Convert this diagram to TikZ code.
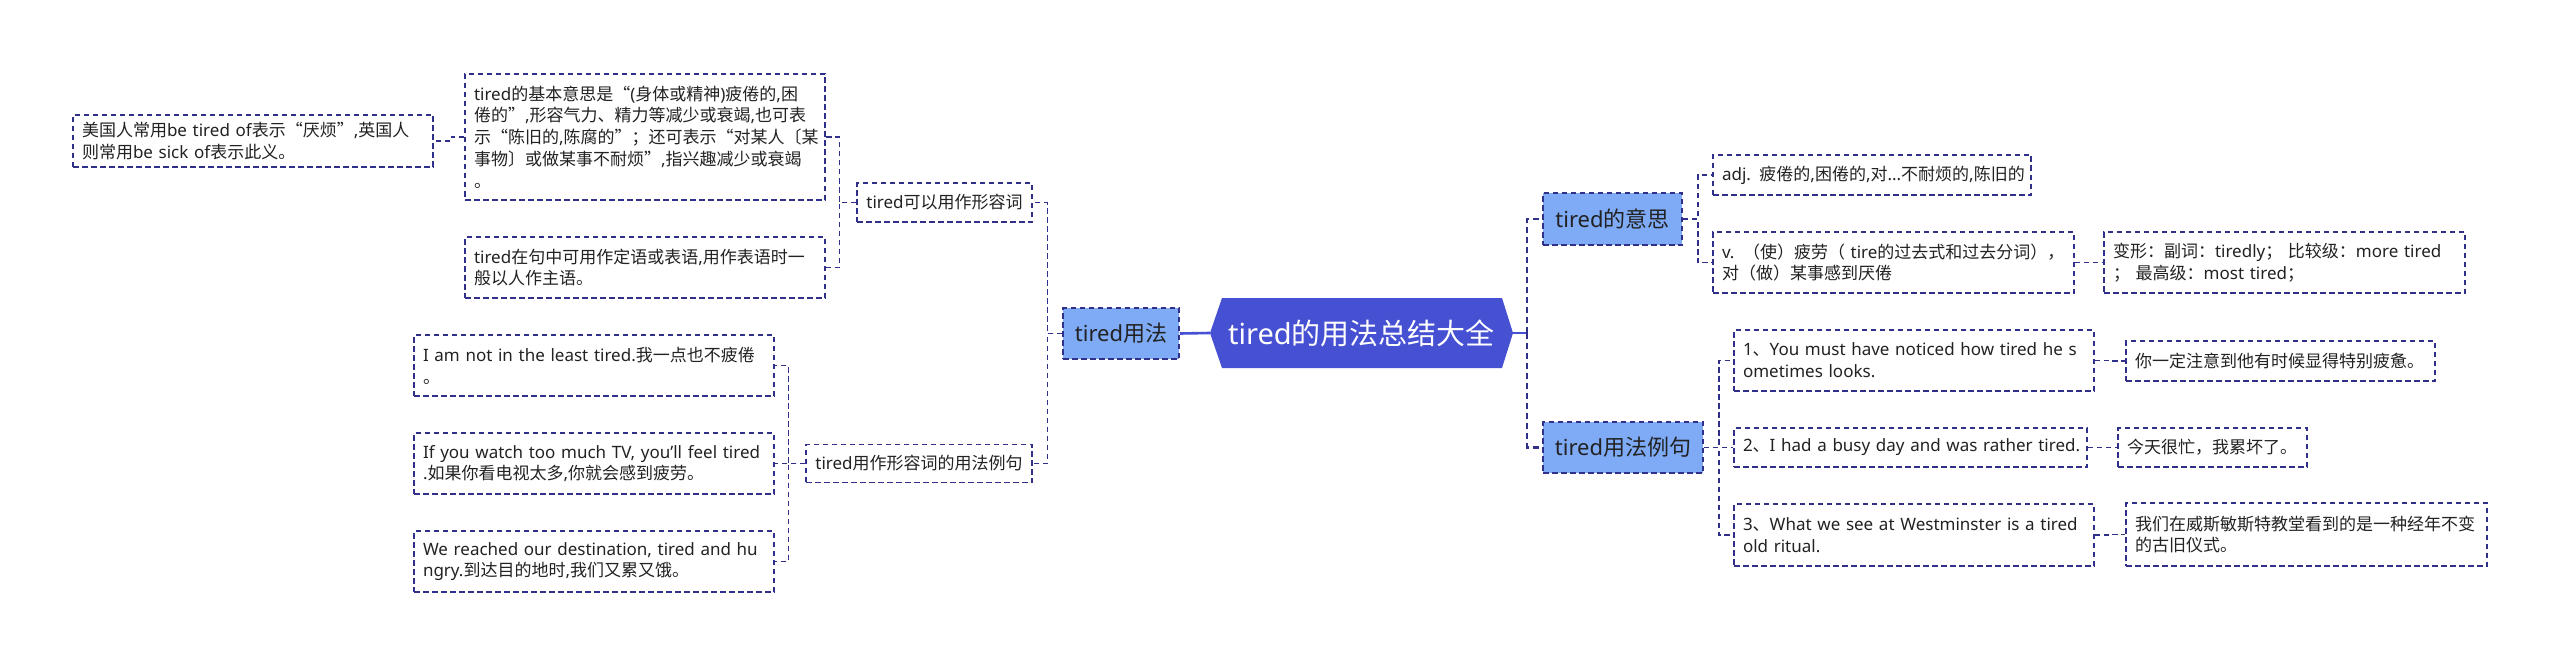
\documentclass[tikz,border=0pt]{standalone}
\usepackage{fontspec}
\setmainfont{Noto Sans}
\newfontfamily\cjkfont{Noto Sans CJK SC}
\newfontfamily\latfont{Noto Sans}
\XeTeXinterchartokenstate=1
\newXeTeXintercharclass\CJKcls
\newcount\myc
\myc="2E80
\loop\XeTeXcharclass\myc=\CJKcls\advance\myc by 1\relax\ifnum\myc<"A000\repeat
\myc="FF00
\loop\XeTeXcharclass\myc=\CJKcls\advance\myc by 1\relax\ifnum\myc<"FFF0\repeat
\XeTeXcharclass"201C=\CJKcls
\XeTeXcharclass"201D=\CJKcls
\XeTeXinterchartoks 0 \CJKcls = {\cjkfont}
\XeTeXinterchartoks 4095 \CJKcls = {\cjkfont}
\XeTeXinterchartoks \CJKcls 0 = {\latfont}
\XeTeXinterchartoks \CJKcls 4095 = {\latfont}
\definecolor{lncol}{HTML}{30308A}
\definecolor{lb}{HTML}{7EAAF6}
\definecolor{hx}{HTML}{4650D2}
\definecolor{tx}{HTML}{222222}
\newcommand\smf{\fontsize{17pt}{21.7pt}\selectfont}
\newcommand\mdf{\fontsize{22pt}{26pt}\selectfont}
\newcommand\cff{\fontsize{29pt}{34pt}\selectfont}
\newcommand\lnb[1]{\mbox{#1}}
\tikzset{
  dsh/.style={line width=1.5pt, dash pattern=on 5.5pt off 3.5pt},
  bx/.style={draw=lncol, dsh, inner xsep=9pt, inner ysep=0pt, align=left, font=\smf, text=tx},
  l1/.style={draw=lncol, dsh, fill=lb, inner sep=0pt, font=\mdf, text=tx},
  conn/.style={draw=lncol, dsh},
  tconn/.style={draw=lncol, line width=2.4pt, dash pattern=on 6pt off 4pt},
  mainline/.style={draw=hx, line width=2.6pt},
}
\begin{document}
\begin{tikzpicture}[x=1pt,y=-1pt]
\useasboundingbox (0,0) rectangle (2560,666);
\fill[white] (0,0) rectangle (2560,666);
% central topic
\fill[hx] (1210,333) -- (1222,298) -- (1502,298) -- (1513,333) -- (1502,368) -- (1222,368) -- cycle;
\node[minimum width=303pt, minimum height=70pt, inner sep=0pt, font=\cff, text=white] (c) at (1361.5,333) {tired的用法总结大全};
% left side
\node[l1, minimum width=116pt, minimum height=51pt] (usage) at (1121,333.5) {tired用法};
\node[bx, minimum width=175pt, minimum height=39pt] (adjA) at (944.5,202.5) {tired可以用作形容词};
\node[bx, minimum width=226pt, minimum height=38pt] (exA) at (919,463.5) {tired用作形容词的用法例句};
\node[bx, text width=342pt, minimum height=126pt] (b1) at (645,137) {\lnb{tired的基本意思是“(身体或精神)疲倦的,困}\\\lnb{倦的”,形容气力、精力等减少或衰竭,也可表}\\\lnb{示“陈旧的,陈腐的”；还可表示“对某人〔某}\\\lnb{事物〕或做某事不耐烦”,指兴趣减少或衰竭}\\。};
\node[bx, text width=342pt, minimum height=61pt] (b2) at (645,267.5) {\lnb{tired在句中可用作定语或表语,用作表语时一}\\般以人作主语。};
\node[bx, text width=342pt, minimum height=52pt] (mei) at (253,141) {\lnb{美国人常用be tired of表示“厌烦”,英国人}\\\lnb{则常用be sick of表示此义。}};
\node[bx, text width=342pt, minimum height=61pt] (e1) at (594,365.5) {\lnb{I am not in the least tired.我一点也不疲倦}\\。};
\node[bx, text width=342pt, minimum height=61pt] (e2) at (594,463.5) {\lnb{If you watch too much TV, you'll feel tired}\\\lnb{.如果你看电视太多,你就会感到疲劳。}};
\node[bx, text width=342pt, minimum height=61pt] (e3) at (594,561.5) {\lnb{We reached our destination, tired and hu}\\\lnb{ngry.到达目的地时,我们又累又饿。}};
% right side
\node[l1, minimum width=139pt, minimum height=52pt] (M) at (1612.5,219) {tired的意思};
\node[l1, minimum width=160pt, minimum height=51pt] (X) at (1623,447.5) {tired用法例句};
\node[bx, text width=300pt, minimum height=40pt] (A) at (1872,175) {\lnb{adj. 疲倦的,困倦的,对...不耐烦的,陈旧的}};
\node[bx, text width=343pt, minimum height=61pt] (V) at (1893.5,262.5) {\lnb{v. （使）疲劳（ tire的过去式和过去分词），}\\\lnb{对（做）某事感到厌倦}};
\node[bx, text width=343pt, minimum height=61pt] (Bx) at (2284.5,262.5) {\lnb{变形：副词：tiredly； 比较级：more tired}\\\lnb{； 最高级：most tired；}};
\node[bx, text width=342pt, minimum height=61pt] (S1) at (1914,360.5) {\lnb{1、You must have noticed how tired he s}\\\lnb{ometimes looks.}};
\node[bx, text width=335pt, minimum height=39pt] (S2) at (1910.5,447.5) {\lnb{2、I had a busy day and was rather tired.}};
\node[bx, text width=342pt, minimum height=62pt] (S3) at (1914,535) {\lnb{3、What we see at Westminster is a tired}\\\lnb{old ritual.}};
\node[bx, text width=291pt, minimum height=40pt] (T1) at (2280.5,361) {\lnb{你一定注意到他有时候显得特别疲惫。}};
\node[bx, text width=171pt, minimum height=39pt] (T2) at (2212.5,447.5) {\lnb{今天很忙，我累坏了。}};
\node[bx, text width=343pt, minimum height=63pt] (T3) at (2306.5,534.5) {\lnb{我们在威斯敏斯特教堂看到的是一种经年不变}\\\lnb{的古旧仪式。}};
% connectors left
\draw[mainline] (c.west) -- (usage.east);
\draw[conn] (usage.west) -- ++(-15,0) |- (adjA.east);
\draw[conn] (usage.west) -- ++(-15,0) |- (exA.east);
\draw[conn] (adjA.west) -- ++(-17,0) |- (b1.east);
\draw[conn] (adjA.west) -- ++(-17,0) |- (b2.east);
\draw[conn] (b1.west) -- ++(-13,0) |- (mei.east);
\draw[conn] (exA.west) -- ++(-17,0) |- (e1.east);
\draw[conn] (exA.west) -- ++(-17,0) |- (e2.east);
\draw[conn] (exA.west) -- ++(-17,0) |- (e3.east);
% connectors right
\draw[mainline] (c.east) -- ++(14,0) coordinate (rj);
\draw[tconn] (rj) |- (M.west);
\draw[tconn] (rj) |- (X.west);
\draw[conn] (M.east) -- ++(15,0) |- (A.west);
\draw[conn] (M.east) -- ++(15,0) |- (V.west);
\draw[conn] (V.east) -- (Bx.west);
\draw[conn] (X.east) -- ++(15,0) |- (S1.west);
\draw[conn] (X.east) -- ++(15,0) |- (S2.west);
\draw[conn] (X.east) -- ++(15,0) |- (S3.west);
\draw[conn] (S1.east) -- ++(16,0) |- (T1.west);
\draw[conn] (S2.east) -- ++(15,0) |- (T2.west);
\draw[conn] (S3.east) -- ++(16,0) |- (T3.west);
\end{tikzpicture}
\end{document}
